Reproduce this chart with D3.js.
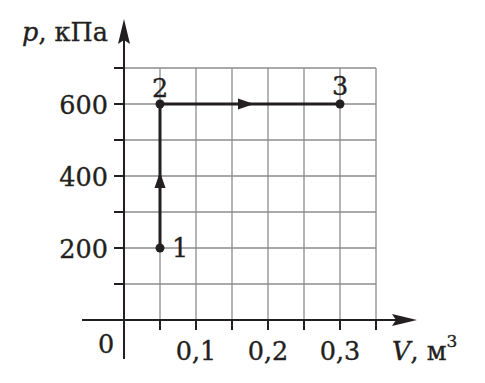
<!DOCTYPE html>
<meta charset="utf-8">
<html>
<script src="https://d3js.org/d3.v7.min.js"></script>
<style>
  body { margin: 0; background: white; }
  text { font-family: "DejaVu Serif", serif; fill: #231f20; stroke: #231f20; stroke-width: 0.35; }
</style>
<body>
<div id="my_dataviz"></div>
<script>
  // data
  const volumes = [0.05, 0.05, 0.3];     // V, m^3
  const pressures = [200, 600, 600];     // p, kPa
  const pointNames = ["1", "2", "3"];
  const vTickLabels = [0.1, 0.2, 0.3];
  const pTickLabels = [200, 400, 600];

  const width = 485, height = 383;
  const ink = "#231f20";
  const fs = 25.5;

  const svg = d3.select("#my_dataviz")
    .append("svg")
      .attr("width", width)
      .attr("height", height);

  const x = d3.scaleLinear().domain([0, 0.35]).range([124, 376]);
  const y = d3.scaleLinear().domain([0, 700]).range([320, 68]);

  const gridV = x.ticks(7);   // every 0.05
  const gridP = y.ticks(7);   // every 100

  // grid
  const grid = svg.append("g").attr("stroke", "#8c8c8c").attr("stroke-width", 1.3);
  grid.selectAll("line.v").data(gridV.filter(d => d > 0))
    .join("line")
      .attr("x1", d => x(d)).attr("x2", d => x(d))
      .attr("y1", y(0)).attr("y2", y(700));
  grid.selectAll("line.h").data(gridP.filter(d => d > 0))
    .join("line")
      .attr("x1", x(0)).attr("x2", x(0.35))
      .attr("y1", d => y(d)).attr("y2", d => y(d));

  // axes
  const axes = svg.append("g").attr("stroke", ink).attr("stroke-width", 2);
  axes.append("line").attr("x1", 82).attr("x2", 405).attr("y1", y(0)).attr("y2", y(0));
  axes.append("line").attr("x1", x(0)).attr("x2", x(0)).attr("y1", 359).attr("y2", 32);
  // tick marks
  axes.selectAll("line.tx").data(gridV.filter(d => d > 0))
    .join("line")
      .attr("x1", d => x(d)).attr("x2", d => x(d))
      .attr("y1", y(0)).attr("y2", y(0) + 10);
  axes.selectAll("line.ty").data(gridP.filter(d => d > 0))
    .join("line")
      .attr("x1", x(0) - 10).attr("x2", x(0))
      .attr("y1", d => y(d)).attr("y2", d => y(d));

  // axis arrows
  svg.append("path")
    .attr("d", `M417,${y(0)} L392,${y(0) - 6} L396,${y(0)} L392,${y(0) + 6} Z`)
    .attr("fill", ink);
  svg.append("path")
    .attr("d", `M${x(0)},19 L${x(0) - 6},44 L${x(0)},40 L${x(0) + 6},44 Z`)
    .attr("fill", ink);

  // tick labels
  svg.selectAll("text.vt").data(vTickLabels)
    .join("text")
      .attr("x", d => x(d))
      .attr("y", 360)
      .attr("text-anchor", "middle")
      .attr("font-size", fs)
      .text(d => String(d).replace(".", ","));
  svg.selectAll("text.pt").data(pTickLabels)
    .join("text")
      .attr("x", 108)
      .attr("y", d => y(d) + 9.5)
      .attr("text-anchor", "end")
      .attr("font-size", fs)
      .text(d => d);
  svg.append("text").attr("x", 106).attr("y", 353).attr("text-anchor", "middle")
    .attr("font-size", fs).text("0");

  // axis titles
  const pt = svg.append("text").attr("x", 108).attr("y", 41).attr("text-anchor", "end").attr("font-size", fs);
  pt.append("tspan").attr("font-style", "italic").text("p");
  pt.append("tspan").text(", кПа");
  const vt = svg.append("text").attr("x", 392).attr("y", 360).attr("font-size", fs);
  vt.append("tspan").attr("font-style", "italic").text("V");
  vt.append("tspan").text(", м");
  vt.append("tspan").attr("font-size", 17).attr("dy", -13).text("3");

  // process lines
  const pts = volumes.map((v, i) => ({v: v, p: pressures[i], name: pointNames[i]}));
  svg.append("path")
    .datum(pts)
    .attr("d", d3.line().x(d => x(d.v)).y(d => y(d.p)))
    .attr("fill", "none")
    .attr("stroke", ink)
    .attr("stroke-width", 3);

  // direction arrows near the middle of each segment
  for (let i = 0; i < pts.length - 1; i++) {
    const a = pts[i], b = pts[i + 1];
    const x1 = x(a.v), y1 = y(a.p), x2 = x(b.v), y2 = y(b.p);
    const len = Math.hypot(x2 - x1, y2 - y1);
    const ux = (x2 - x1) / len, uy = (y2 - y1) / len;
    const tx = (x1 + x2) / 2 + ux * 4, ty = (y1 + y2) / 2 + uy * 4;
    const bx = tx - ux * 16, by = ty - uy * 16;
    svg.append("path")
      .attr("d", `M${tx},${ty} L${bx - uy * 5.5},${by + ux * 5.5} L${bx + uy * 5.5},${by - ux * 5.5} Z`)
      .attr("fill", ink);
  }

  svg.selectAll("circle.pt").data(pts)
    .join("circle")
      .attr("cx", d => x(d.v))
      .attr("cy", d => y(d.p))
      .attr("r", 4.5)
      .attr("fill", ink);

  const labelOffset = {"1": [20, 9], "2": [0, -7], "3": [0, -9]};
  svg.selectAll("text.name").data(pts)
    .join("text")
      .attr("x", d => x(d.v) + labelOffset[d.name][0])
      .attr("y", d => y(d.p) + labelOffset[d.name][1])
      .attr("text-anchor", "middle")
      .attr("font-size", fs)
      .text(d => d.name);
</script>
</body>
</html>
